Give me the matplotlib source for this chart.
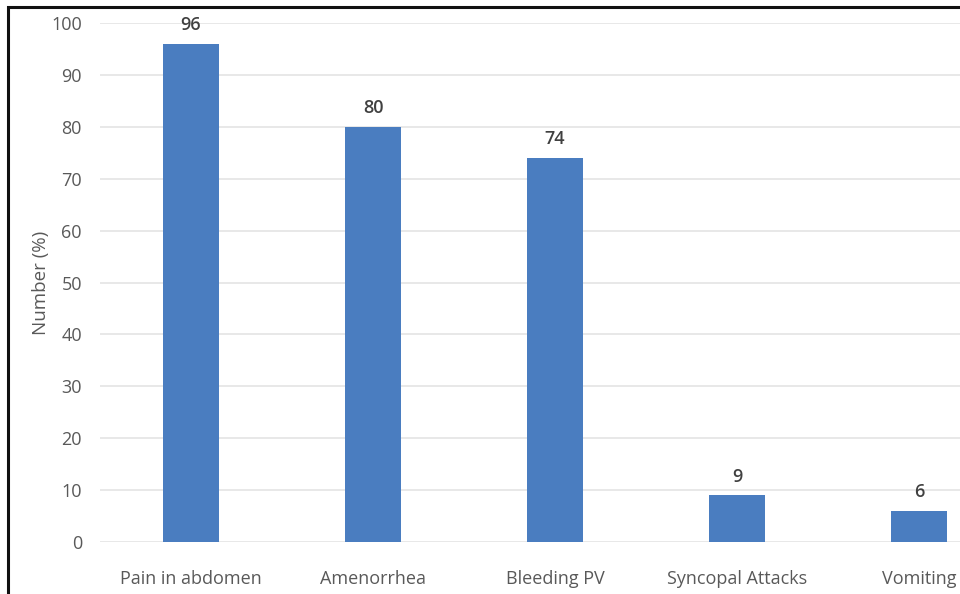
import matplotlib
matplotlib.use("Agg")
import matplotlib.pyplot as plt
from matplotlib.patches import Rectangle

symptoms = ["Pain in abdomen", "Amenorrhea", "Bleeding PV", "Syncopal Attacks", "Vomiting"]
percent = [96, 80, 74, 9, 6]
y_ticks = [0, 10, 20, 30, 40, 50, 60, 70, 80, 90, 100]

plt.rcParams["font.family"] = ["Open Sans", "DejaVu Sans"]

fig = plt.figure(figsize=(9.6, 5.94), dpi=100)
ax = fig.add_axes([100 / 960, 52 / 594, 910 / 960, 519 / 594])

x = range(len(symptoms))
bar_color = "#4a7dc0"
ax.bar(x, percent, width=0.31, color=bar_color, zorder=3)

for xi, v in zip(x, percent):
    ax.annotate(str(v), (xi, v), xytext=(0, 7), textcoords="offset points",
                ha="center", va="bottom", fontsize=13, fontweight="semibold",
                color="#404040")

ax.set_xlim(-0.5, len(symptoms) - 0.5)
ax.set_ylim(0, 100)
ax.set_yticks(y_ticks)
ax.set_xticks(list(x))
ax.set_xticklabels(symptoms)
ax.tick_params(axis="both", length=0, labelsize=13, colors="#595959")
ax.tick_params(axis="x", pad=20)
ax.tick_params(axis="y", pad=13)
ax.grid(axis="y", color="#e4e4e4", linewidth=1.2, zorder=0)
for s in ax.spines.values():
    s.set_visible(False)
ax.set_ylabel("Number (%)", fontsize=13.5, color="#595959")
ax.yaxis.set_label_coords(-50 / 910, 0.5)

# outer frame (left and top edges)
fig.patches.append(Rectangle((8 / 960, -0.1), 2.0, 1.1 - 7.5 / 594,
                             transform=fig.transFigure, fill=False,
                             edgecolor="#111111", linewidth=2.2))

fig.savefig("out.png", dpi=100)
